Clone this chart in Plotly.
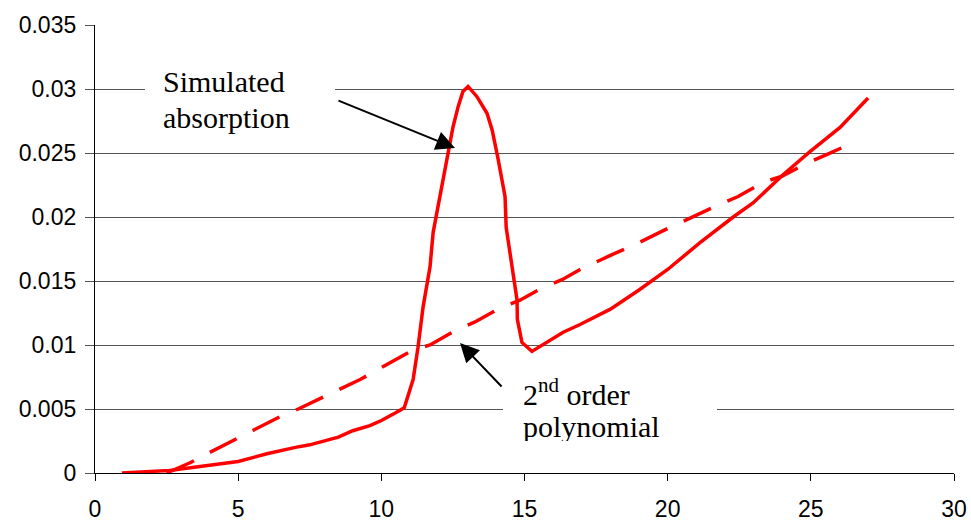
import plotly.graph_objects as go

# ---- data ----
solid_x = [0.94, 2.6, 5.0, 6.0, 7.0, 7.5, 8.5, 9.0, 9.6, 10.0, 10.5, 10.8, 11.11, 11.28, 11.46, 11.7,
           11.81, 11.98, 12.16, 12.33, 12.5, 12.68, 12.85, 13.03, 13.34, 13.69, 13.87, 14.08, 14.32,
           14.36, 14.57, 14.74, 14.75, 14.91, 15.26, 15.79, 16.35, 16.94, 18.0, 19.0, 20.0, 21.13,
           22.29, 22.98, 24.03, 24.97, 26.02, 27.0]
solid_y = [0, 0.0002, 0.0009, 0.0015, 0.002, 0.0022, 0.0028, 0.0033, 0.0037, 0.0041, 0.0047, 0.0051,
           0.0073, 0.0098, 0.013, 0.0161, 0.0188, 0.0208, 0.0231, 0.0252, 0.027, 0.0286, 0.0298, 0.0302,
           0.0294, 0.0281, 0.0268, 0.0245, 0.0216, 0.0192, 0.0161, 0.0135, 0.012, 0.0102, 0.0095, 0.0102,
           0.011, 0.0116, 0.0128, 0.0143, 0.0159, 0.018, 0.020, 0.0211, 0.0233, 0.0251, 0.027, 0.0293]

dash_x = [2.5, 2.97, 3.32, 4.0, 4.96, 5.59, 6.46, 7.1, 8.1, 8.67, 9.26, 10.13, 11.1, 11.7, 12.64, 13.27,
          14.15, 14.84, 15.65, 16.31, 16.94, 18.0, 19.0, 20.0, 21.13, 21.83, 22.46, 23.33, 24.0, 24.87,
          25.57, 26.48]
dash_y = [0, 0.0005, 0.0008, 0.0016, 0.0027, 0.0034, 0.0044, 0.005, 0.0061, 0.0067, 0.0073, 0.0084,
          0.0096, 0.010, 0.0112, 0.0118, 0.0129, 0.0135, 0.0145, 0.0151, 0.0159, 0.017, 0.018, 0.0191,
          0.0203, 0.021, 0.0216, 0.0227, 0.0232, 0.0242, 0.0249, 0.0258]

x_ticks = [0, 5, 10, 15, 20, 25, 30]
y_ticks = [0, 0.005, 0.01, 0.015, 0.02, 0.025, 0.03, 0.035]
y_tick_text = ["0", "0.005", "0.01", "0.015", "0.02", "0.025", "0.03", "0.035"]

label_sim = ["Simulated", "absorption"]
label_poly = ["2<sup>nd</sup> order", "polynomial"]

# ---- geometry helpers (reference pixel -> data) ----
W, H = 971, 521
PX0, PX1 = 95, 954      # reference pixel of x=0 and x=30
PY0, PY1 = 473, 25      # reference pixel of y=0 and y=0.035
XMAX, YMAX = 30, 0.035

def px2x(p):
    return (p - PX0) / (PX1 - PX0) * XMAX

def px2y(p):
    return (PY0 - p) / (PY0 - PY1) * YMAX

RED = "#ff0000"
fig = go.Figure()
fig.add_trace(go.Scatter(x=dash_x, y=dash_y, mode="lines",
                         line=dict(color=RED, width=3.5, dash="30px,18px")))
fig.add_trace(go.Scatter(x=solid_x, y=solid_y, mode="lines",
                         line=dict(color=RED, width=3.5)))

# white boxes interrupting gridlines behind labels
for (x0, x1, y0, y1) in [(145, 335, 62, 140), (503, 717, 378, 442)]:
    fig.add_shape(type="rect", xref="x", yref="y", x0=px2x(x0), x1=px2x(x1), y0=px2y(y1), y1=px2y(y0),
                  fillcolor="white", line=dict(width=0), layer="above")

serif = dict(family="Liberation Serif", size=30, color="black")
anns = []
for i, txt in enumerate(label_sim):
    anns.append(dict(x=px2x(162), y=px2y(64 + i * 36), xref="x", yref="y", text=txt, showarrow=False,
                     xanchor="left", yanchor="top", font=serif, borderpad=0))
for i, txt in enumerate(label_poly):
    a = dict(x=px2x(522), y=px2y(372 + i * 37), xref="x", yref="y", text=txt, showarrow=False,
             xanchor="left", yanchor="top", font=serif, borderpad=0, align="left", valign="top")
    if i == 1:
        a.update(height=31, width=160)
    anns.append(a)
anns.append(dict(x=px2x(455), y=px2y(148), ax=px2x(337), ay=px2y(100), xref="x", yref="y",
                 axref="x", ayref="y", text="", showarrow=True, arrowhead=2, arrowsize=1.9,
                 arrowwidth=2, arrowcolor="black"))
anns.append(dict(x=px2x(460), y=px2y(343), ax=px2x(503), ay=px2y(388), xref="x", yref="y",
                 axref="x", ayref="y", text="", showarrow=True, arrowhead=2, arrowsize=1.9,
                 arrowwidth=2, arrowcolor="black"))

tickfont = dict(family="Liberation Sans", size=23, color="black")
fig.update_layout(
    width=W, height=H, margin=dict(l=95, r=17, t=25, b=48, pad=0, autoexpand=False),
    paper_bgcolor="white", plot_bgcolor="white", showlegend=False,
    annotations=anns,
    xaxis=dict(range=[0, XMAX], tickvals=x_ticks, showgrid=False, zeroline=False,
               showline=True, linecolor="black", linewidth=1.3, ticks="outside", ticklen=7,
               tickcolor="black", tickwidth=1.3, tickfont=tickfont, ticklabelstandoff=8,
               automargin=False, fixedrange=True),
    yaxis=dict(range=[0, YMAX], tickvals=y_ticks, ticktext=y_tick_text, showgrid=True,
               gridcolor="#555555", gridwidth=1.3, zeroline=False, showline=True, linecolor="black",
               linewidth=1.3, ticks="outside", ticklen=9, tickcolor="#555555", tickwidth=1.3,
               tickfont=tickfont, ticklabelstandoff=4, automargin=False, fixedrange=True),
)
fig.write_html("out.html")
